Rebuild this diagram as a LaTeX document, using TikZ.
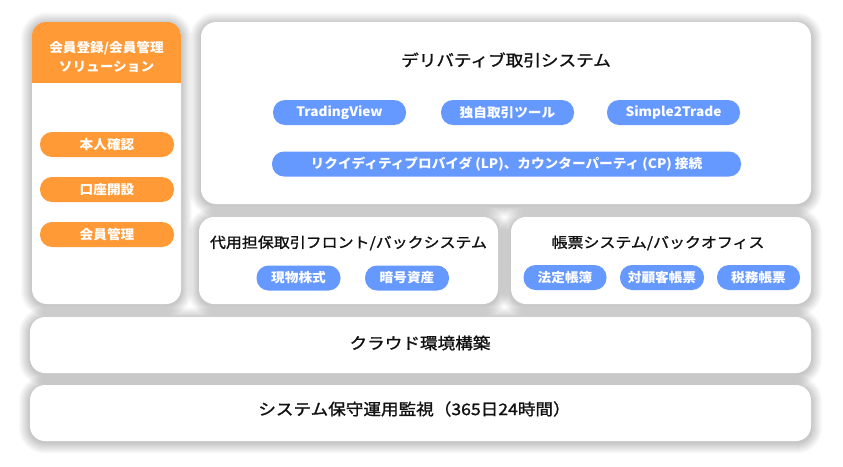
\documentclass[tikz,border=0pt]{standalone}
\usepackage{fontspec}
\setmainfont{Noto Sans CJK JP}
\newfontfamily\ttlfont{Noto Sans CJK JP}[FakeStretch=1.1, FakeBold=1.3]
\newfontfamily\pillfont{Noto Sans CJK JP}[FakeStretch=1.05]
\pgfdeclarelayer{shadow}
\pgfsetlayers{shadow,main}
\definecolor{orng}{HTML}{FF9A36}
\definecolor{pillblue}{HTML}{6699FF}
\definecolor{ttl}{HTML}{111111}
\tikzset{
  panel/.style={fill=white, draw=none, rounded corners=15pt, inner sep=0pt},
  pill/.style={fill=#1, draw=none, rounded corners=12pt, inner sep=0pt,
    minimum height=25pt, text=white,
    font=\pillfont\fontsize{13}{15}\selectfont\bfseries},
  pill/.default=pillblue,
  ttltext/.style={text=ttl, inner sep=0pt, font=\ttlfont\fontsize{16}{19}\selectfont},
  subttltext/.style={text=ttl, inner sep=0pt, font=\ttlfont\fontsize{14.5}{17}\selectfont},
  hdrtext/.style={text=white, inner sep=0pt, align=center,
    font=\pillfont\fontsize{13}{19}\selectfont\bfseries},
  softshadow/.style={fill=black, fill opacity=0.02}
}
\newcommand{\panelshadow}[1]{%
  \begin{pgfonlayer}{shadow}
  \foreach \i in {1,...,11}{
    \fill[softshadow, rounded corners=15pt+\i pt]
      ([shift={(-\i,-\i+1.5)}]#1.north west) rectangle ([shift={(\i,\i+1.5)}]#1.south east);
  }
  \end{pgfonlayer}}
\begin{document}
\begin{tikzpicture}[x=1pt,y=-1pt]
\useasboundingbox (0,0) rectangle (843,466);
\begin{pgfonlayer}{shadow}
\fill[white] (0,0) rectangle (843,466);
\end{pgfonlayer}

% panels
\node[panel, minimum width=149pt, minimum height=282pt] (member) at (106.5,163) {};
\node[panel, minimum width=610pt, minimum height=182pt] (deriv) at (506,113) {};
\node[panel, minimum width=299pt, minimum height=87pt] (margin) at (348.5,260.5) {};
\node[panel, minimum width=300pt, minimum height=87pt] (report) at (661,260.5) {};
\node[panel, minimum width=781pt, minimum height=56pt] (cloud) at (420.5,345) {};
\node[panel, minimum width=781pt, minimum height=56pt] (ops) at (420.5,413) {};
\panelshadow{member}
\panelshadow{deriv}
\panelshadow{margin}
\panelshadow{report}
\panelshadow{cloud}
\panelshadow{ops}

% orange header of member panel
\begin{scope}
  \clip[rounded corners=15pt] (member.north west) rectangle (member.south east);
  \fill[orng] (member.north west) rectangle (181,83);
\end{scope}
\node[hdrtext] (memberhdr) at (106.5,56.5) {会員登録/会員管理\\ソリューション};

% member pills
\node[pill=orng, minimum width=134pt] (kyc) at (107,144.5) {本人確認};
\node[pill=orng, minimum width=134pt] (acct) at (107,189.5) {口座開設};
\node[pill=orng, minimum width=134pt] (mgmt) at (107,234.5) {会員管理};

% derivative panel
\node[ttltext] (derivtitle) at (506,60) {デリバティブ取引システム};
\node[pill, minimum width=133pt] (tv) at (339.5,112.5) {TradingView};
\node[pill, minimum width=133pt] (tool) at (507.5,112.5) {独自取引ツール};
\node[pill, minimum width=133pt] (s2t) at (673.5,112.5) {Simple2Trade};
\node[pill, minimum width=469pt] (lp) at (506.5,164) {リクイディティプロバイダ (LP)、カウンターパーティ (CP) 接続};

% margin trading panel
\node[subttltext] (margintitle) at (348.5,243) {代用担保取引フロント/バックシステム};
\node[pill, minimum width=84pt] (stock) at (298.5,278) {現物株式};
\node[pill, minimum width=84pt] (crypto) at (407,278) {暗号資産};

% report panel
\node[subttltext] (reporttitle) at (658,243) {帳票システム/バックオフィス};
\node[pill, minimum width=83pt] (legal) at (565,277.5) {法定帳簿};
\node[pill, minimum width=84pt] (client) at (662,277.5) {対顧客帳票};
\node[pill, minimum width=83pt] (tax) at (758.5,277.5) {税務帳票};

% bottom panels
\node[ttltext] (cloudtitle) at (420,343) {クラウド環境構築};
\node[ttltext] (opstitle) at (414.5,409) {システム保守運用監視（365日24時間）};
\end{tikzpicture}
\end{document}
